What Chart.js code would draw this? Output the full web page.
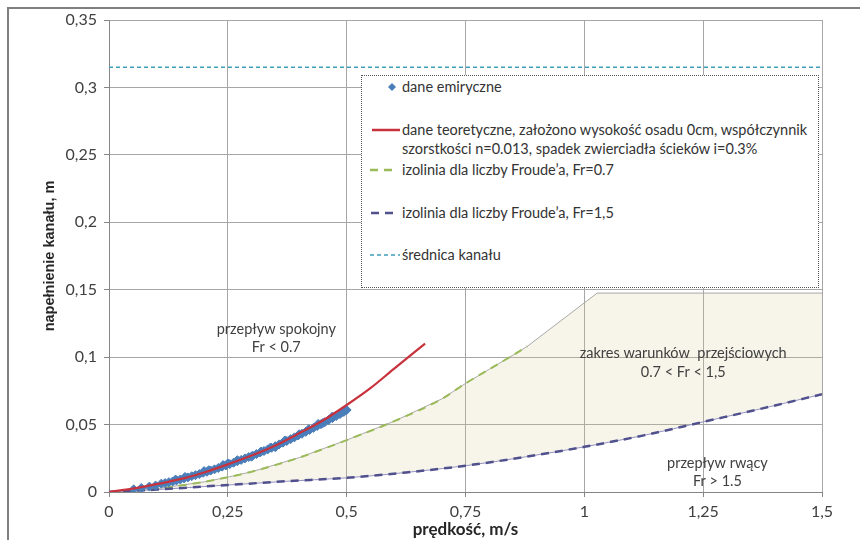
<!DOCTYPE html>
<html>
<head>
<meta charset="utf-8">
<script src="https://cdn.jsdelivr.net/npm/chart.js@4"></script>
<style>
  body { margin: 0; width: 860px; height: 540px; overflow: hidden; background: #fff; position: relative; font-family: Lato, sans-serif; }
  #frame { position: absolute; left: 7px; top: 7px; width: 900px; height: 600px; border: 2px solid #7f7f7f; }
  #chart { position: absolute; left: 0; top: 0; }
  #legend { position: absolute; left: 361px; top: 75px; width: 456px; height: 211px; border: 1px dotted #555; background: #fff; }
  .lg { position: absolute; left: 402px; font-size: 14.5px; line-height: 19px; color: #333; white-space: nowrap; }
  #samples { position: absolute; left: 0; top: 0; }
</style>
</head>
<body>
<div id="frame"></div>
<canvas id="chart" width="860" height="540"></canvas>
<div id="legend"></div>
<svg id="samples" width="860" height="540">
  <polygon points="392,83 396,87 392,91 388,87" fill="#4a7ebb"/>
  <line x1="372" y1="130" x2="400" y2="130" stroke="#c8323c" stroke-width="2.5"/>
  <line x1="370" y1="170" x2="394" y2="170" stroke="#9bbb59" stroke-width="2.5" stroke-dasharray="8,6"/>
  <line x1="371" y1="213" x2="394" y2="213" stroke="#50508c" stroke-width="2.5" stroke-dasharray="8,6"/>
  <line x1="370" y1="255" x2="400" y2="255" stroke="#3e9fb8" stroke-width="1.5" stroke-dasharray="4,3"/>
</svg>
<div class="lg" style="top:77px">dane emiryczne</div>
<div class="lg" style="top:120px">dane teoretyczne, założono wysokość osadu 0cm, współczynnik<br>szorstkości n=0.013, spadek zwierciadła ścieków i=0.3%</div>
<div class="lg" style="top:160px">izolinia dla liczby Froude’a, Fr=0.7</div>
<div class="lg" style="top:203px">izolinia dla liczby Froude’a, Fr=1,5</div>
<div class="lg" style="top:245px">średnica kanału</div>

<script>
// empirical measurements (velocity m/s, filling m)
const empX = [0.052, 0.068, 0.085, 0.098, 0.11, 0.118, 0.126, 0.134, 0.142, 0.15, 0.158, 0.166, 0.174, 0.182, 0.19, 0.198,
  0.206, 0.214, 0.222, 0.23, 0.238, 0.246, 0.254, 0.262, 0.27, 0.278, 0.286, 0.294, 0.302, 0.31, 0.318, 0.326,
  0.334, 0.342, 0.35, 0.358, 0.366, 0.374, 0.382, 0.39, 0.398, 0.406, 0.414, 0.422, 0.43, 0.438, 0.446, 0.454,
  0.462, 0.47, 0.478, 0.486, 0.494, 0.5, 0.2, 0.3, 0.4, 0.45, 0.25, 0.35,
  0.16, 0.21, 0.27, 0.32, 0.37, 0.42, 0.47, 0.14, 0.24, 0.34, 0.44, 0.49];
const empY = [0.002, 0.003, 0.004, 0.0048, 0.0062, 0.0066, 0.0073, 0.0078, 0.0086, 0.0093, 0.0101, 0.0108, 0.0117, 0.0125, 0.0133, 0.0142,
  0.015, 0.0159, 0.0168, 0.0178, 0.0188, 0.0197, 0.0207, 0.0217, 0.0228, 0.0238, 0.0249, 0.0259, 0.027, 0.0281, 0.0293, 0.0304,
  0.0316, 0.0328, 0.034, 0.0353, 0.0366, 0.0378, 0.0392, 0.0405, 0.0419, 0.0432, 0.0446, 0.046, 0.0475, 0.0489, 0.0503, 0.0518,
  0.0533, 0.0548, 0.0563, 0.0578, 0.0594, 0.0608, 0.0155, 0.0262, 0.0428, 0.0512, 0.0212, 0.0332,
  0.0112, 0.0162, 0.0236, 0.0300, 0.0382, 0.0465, 0.0560, 0.0092, 0.0200, 0.0330, 0.0505, 0.0592];

// theoretical curve
const theoX = [0, 0.05, 0.1, 0.15, 0.2, 0.25, 0.3, 0.35, 0.4, 0.45, 0.5, 0.55, 0.6, 0.665];
const theoY = [0, 0.0025, 0.0058, 0.0095, 0.0145, 0.0205, 0.027, 0.0345, 0.0435, 0.053, 0.0645, 0.077, 0.0915, 0.11];

// Froude isolines
const fr07X = [0, 0.1, 0.2, 0.25, 0.3, 0.4, 0.5, 0.6, 0.7, 0.75, 0.8, 0.85, 0.88];
const fr07Y = [0, 0.0025, 0.0075, 0.011, 0.015, 0.0255, 0.0385, 0.0525, 0.069, 0.0805, 0.091, 0.1015, 0.108];
const fr15X = [0, 0.1, 0.25, 0.375, 0.5, 0.625, 0.75, 0.875, 1.0, 1.125, 1.25, 1.375, 1.5];
const fr15Y = [0, 0.0018, 0.0052, 0.008, 0.0105, 0.0145, 0.0195, 0.026, 0.0335, 0.042, 0.052, 0.062, 0.0725];

// upper edge of transition zone
const transX = [0, 0.1, 0.2, 0.25, 0.3, 0.4, 0.5, 0.6, 0.7, 0.75, 0.8, 0.85, 0.88, 1.027, 1.5];
const transY = [0, 0.0025, 0.0075, 0.011, 0.015, 0.0255, 0.0385, 0.0525, 0.069, 0.0805, 0.091, 0.1015, 0.108, 0.1475, 0.1475];

// channel diameter
const diamX = [0, 1.5];
const diamY = [0.315, 0.315];

const notes = [
  { text: 'przepływ spokojny', x: 0.352, y: 0.1205 },
  { text: 'Fr < 0.7', x: 0.352, y: 0.1075 },
  { text: 'zakres warunków  przejściowych', x: 1.208, y: 0.103 },
  { text: '0.7 < Fr < 1,5', x: 1.208, y: 0.089 },
  { text: 'przepływ rwący', x: 1.28, y: 0.0215 },
  { text: 'Fr > 1.5', x: 1.28, y: 0.0078 }
];

const pts = (xs, ys) => xs.map((x, i) => ({ x: x, y: ys[i] }));
const fmt = v => String(Math.round(v * 100) / 100).replace('.', ',');

const notesPlugin = {
  id: 'notes',
  afterDatasetsDraw(chart) {
    const c = chart.ctx;
    const sx = chart.scales.x, sy = chart.scales.y;
    c.save();
    c.font = '14.5px Lato, sans-serif';
    c.fillStyle = '#404040';
    c.textAlign = 'center';
    c.textBaseline = 'middle';
    notes.forEach(n => c.fillText(n.text, sx.getPixelForValue(n.x), sy.getPixelForValue(n.y)));
    c.restore();
  }
};

new Chart(document.getElementById('chart'), {
  type: 'line',
  data: {
    datasets: [
      { data: pts(fr15X, fr15Y), borderColor: '#8c8cc8', borderWidth: 1, pointRadius: 0, fill: false, order: 9, cubicInterpolationMode: 'monotone' },
      { data: pts(transX, transY), borderColor: '#a8a8a8', borderWidth: 1, pointRadius: 0, order: 8,
        fill: { target: 0 }, backgroundColor: 'rgba(215,205,150,0.2)' },
      { data: pts(fr07X, fr07Y), borderColor: '#9bbb59', borderWidth: 2, borderDash: [8, 6], pointRadius: 0, order: 5, cubicInterpolationMode: 'monotone' },
      { data: pts(fr15X, fr15Y), borderColor: '#50508c', borderWidth: 2.5, borderDash: [8, 6], pointRadius: 0, order: 4, cubicInterpolationMode: 'monotone' },
      { data: pts(theoX, theoY), borderColor: '#c8323c', borderWidth: 2.2, pointRadius: 0, order: 1, cubicInterpolationMode: 'monotone' },
      { data: pts(empX, empY), showLine: false, pointStyle: 'rectRot', pointRadius: 4.5, pointBorderWidth: 1,
        pointBackgroundColor: '#4a7ebb', pointBorderColor: '#4a7ebb', order: 2 },
      { data: pts(diamX, diamY), borderColor: '#3e9fb8', borderWidth: 1.5, borderDash: [4, 3], pointRadius: 0, order: 3 }
    ]
  },
  options: {
    responsive: false,
    animation: false,
    devicePixelRatio: 1,
    layout: { padding: { left: 0, right: 38, top: 20, bottom: 0 } },
    plugins: { legend: { display: false }, tooltip: { enabled: false } },
    scales: {
      x: {
        type: 'linear', min: 0, max: 1.5,
        ticks: { stepSize: 0.25, callback: fmt, color: '#404040', font: { family: 'Lato', size: 16 }, padding: 5, maxRotation: 0 },
        grid: { color: '#a6a6a6', tickLength: 5, tickColor: '#868686' },
        border: { color: '#868686' },
        title: { display: true, text: 'prędkość, m/s', color: '#262626', font: { family: 'Lato', size: 17, weight: 'bold' }, padding: { top: 0, bottom: 0 } },
        afterFit(s) { s.height = 48; }
      },
      y: {
        type: 'linear', min: 0, max: 0.35,
        ticks: { stepSize: 0.05, callback: fmt, color: '#404040', font: { family: 'Lato', size: 16 }, padding: 7 },
        grid: { color: '#a6a6a6', tickLength: 5, tickColor: '#868686' },
        border: { color: '#868686' },
        title: { display: true, text: 'napełnienie kanału, m', color: '#262626', font: { family: 'Liberation Sans', size: 14.5, weight: 'bold' }, padding: { top: 41, bottom: 0 } },
        afterFit(s) { s.width = 109; }
      }
    }
  },
  plugins: [notesPlugin]
});
</script>
</body>
</html>
